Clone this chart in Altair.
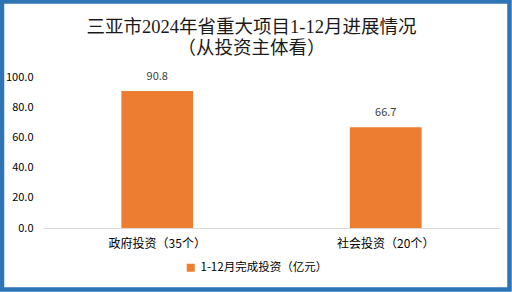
import altair as alt
import pandas as pd

categories = ["政府投资（35个）", "社会投资（20个）"]
values = [90.8, 66.7]
series_name = "1-12月完成投资（亿元）"
y_ticks = [0, 20, 40, 60, 80, 100]

df = pd.DataFrame({"cat": categories, "val": values, "series": [series_name] * len(categories)})

FONT = "Noto Sans CJK SC"
ORANGE = "#ED7D31"
BLUE = "#2E75B6"

x_enc = alt.X("cat:N", sort=categories,
              scale=alt.Scale(paddingInner=0.686, paddingOuter=0.343),
              axis=alt.Axis(title=None, labelAngle=0, ticks=False, domainColor="#D9D9D9",
                            labelPadding=10, labelFontSize=12, labelColor="#000000", labelFont=FONT))
y_enc = alt.Y("val:Q", scale=alt.Scale(domain=[0, 100]),
              axis=alt.Axis(title=None, values=y_ticks, format=".1f", domain=False, ticks=False,
                            grid=False, labelPadding=10, labelFontSize=11, labelColor="#000000",
                            labelFont=FONT, labelOverlap=False))

base = alt.Chart(df)

bars = base.mark_bar(color=ORANGE).encode(
    x=x_enc,
    y=y_enc,
    color=alt.Color("series:N", scale=alt.Scale(range=[ORANGE]),
                    legend=alt.Legend(title=None, orient="none", legendX=142, legendY=185,
                                      symbolType="square", symbolSize=64, symbolStrokeWidth=0,
                                      labelFontSize=11.5, labelFont=FONT, labelColor="#000000",
                                      labelLimit=300)),
)

labels = base.mark_text(dy=-14, fontSize=11, font=FONT, color="#404040").encode(
    x=x_enc,
    y=y_enc,
    text=alt.Text("val:Q", format=".1f"),
)

border = alt.Chart(pd.DataFrame({"b": [0]})).mark_rect(
    fill=None, stroke=BLUE, strokeWidth=4.5
).encode(
    x=alt.value(-41), x2=alt.value(466.5), y=alt.value(-75.5), y2=alt.value(212.5)
)

chart = alt.layer(bars, labels, border).properties(
    width=457, height=151,
    autosize=alt.AutoSizeParams(type="none"),
    padding={"left": 43, "top": 77, "right": 12, "bottom": 64},
    background="white",
    title=alt.TitleParams(
        ["三亚市2024年省重大项目1-12月进展情况", "（从投资主体看）"],
        font="Liberation Serif, Noto Sans CJK SC", fontSize=18.5, fontWeight="normal",
        color="#1a1a1a", anchor="middle", dx=-20, dy=62, lineHeight=21,
    ),
).configure_view(stroke=None)

chart.save("out.html", embed_options={"renderer": "svg", "actions": False})
